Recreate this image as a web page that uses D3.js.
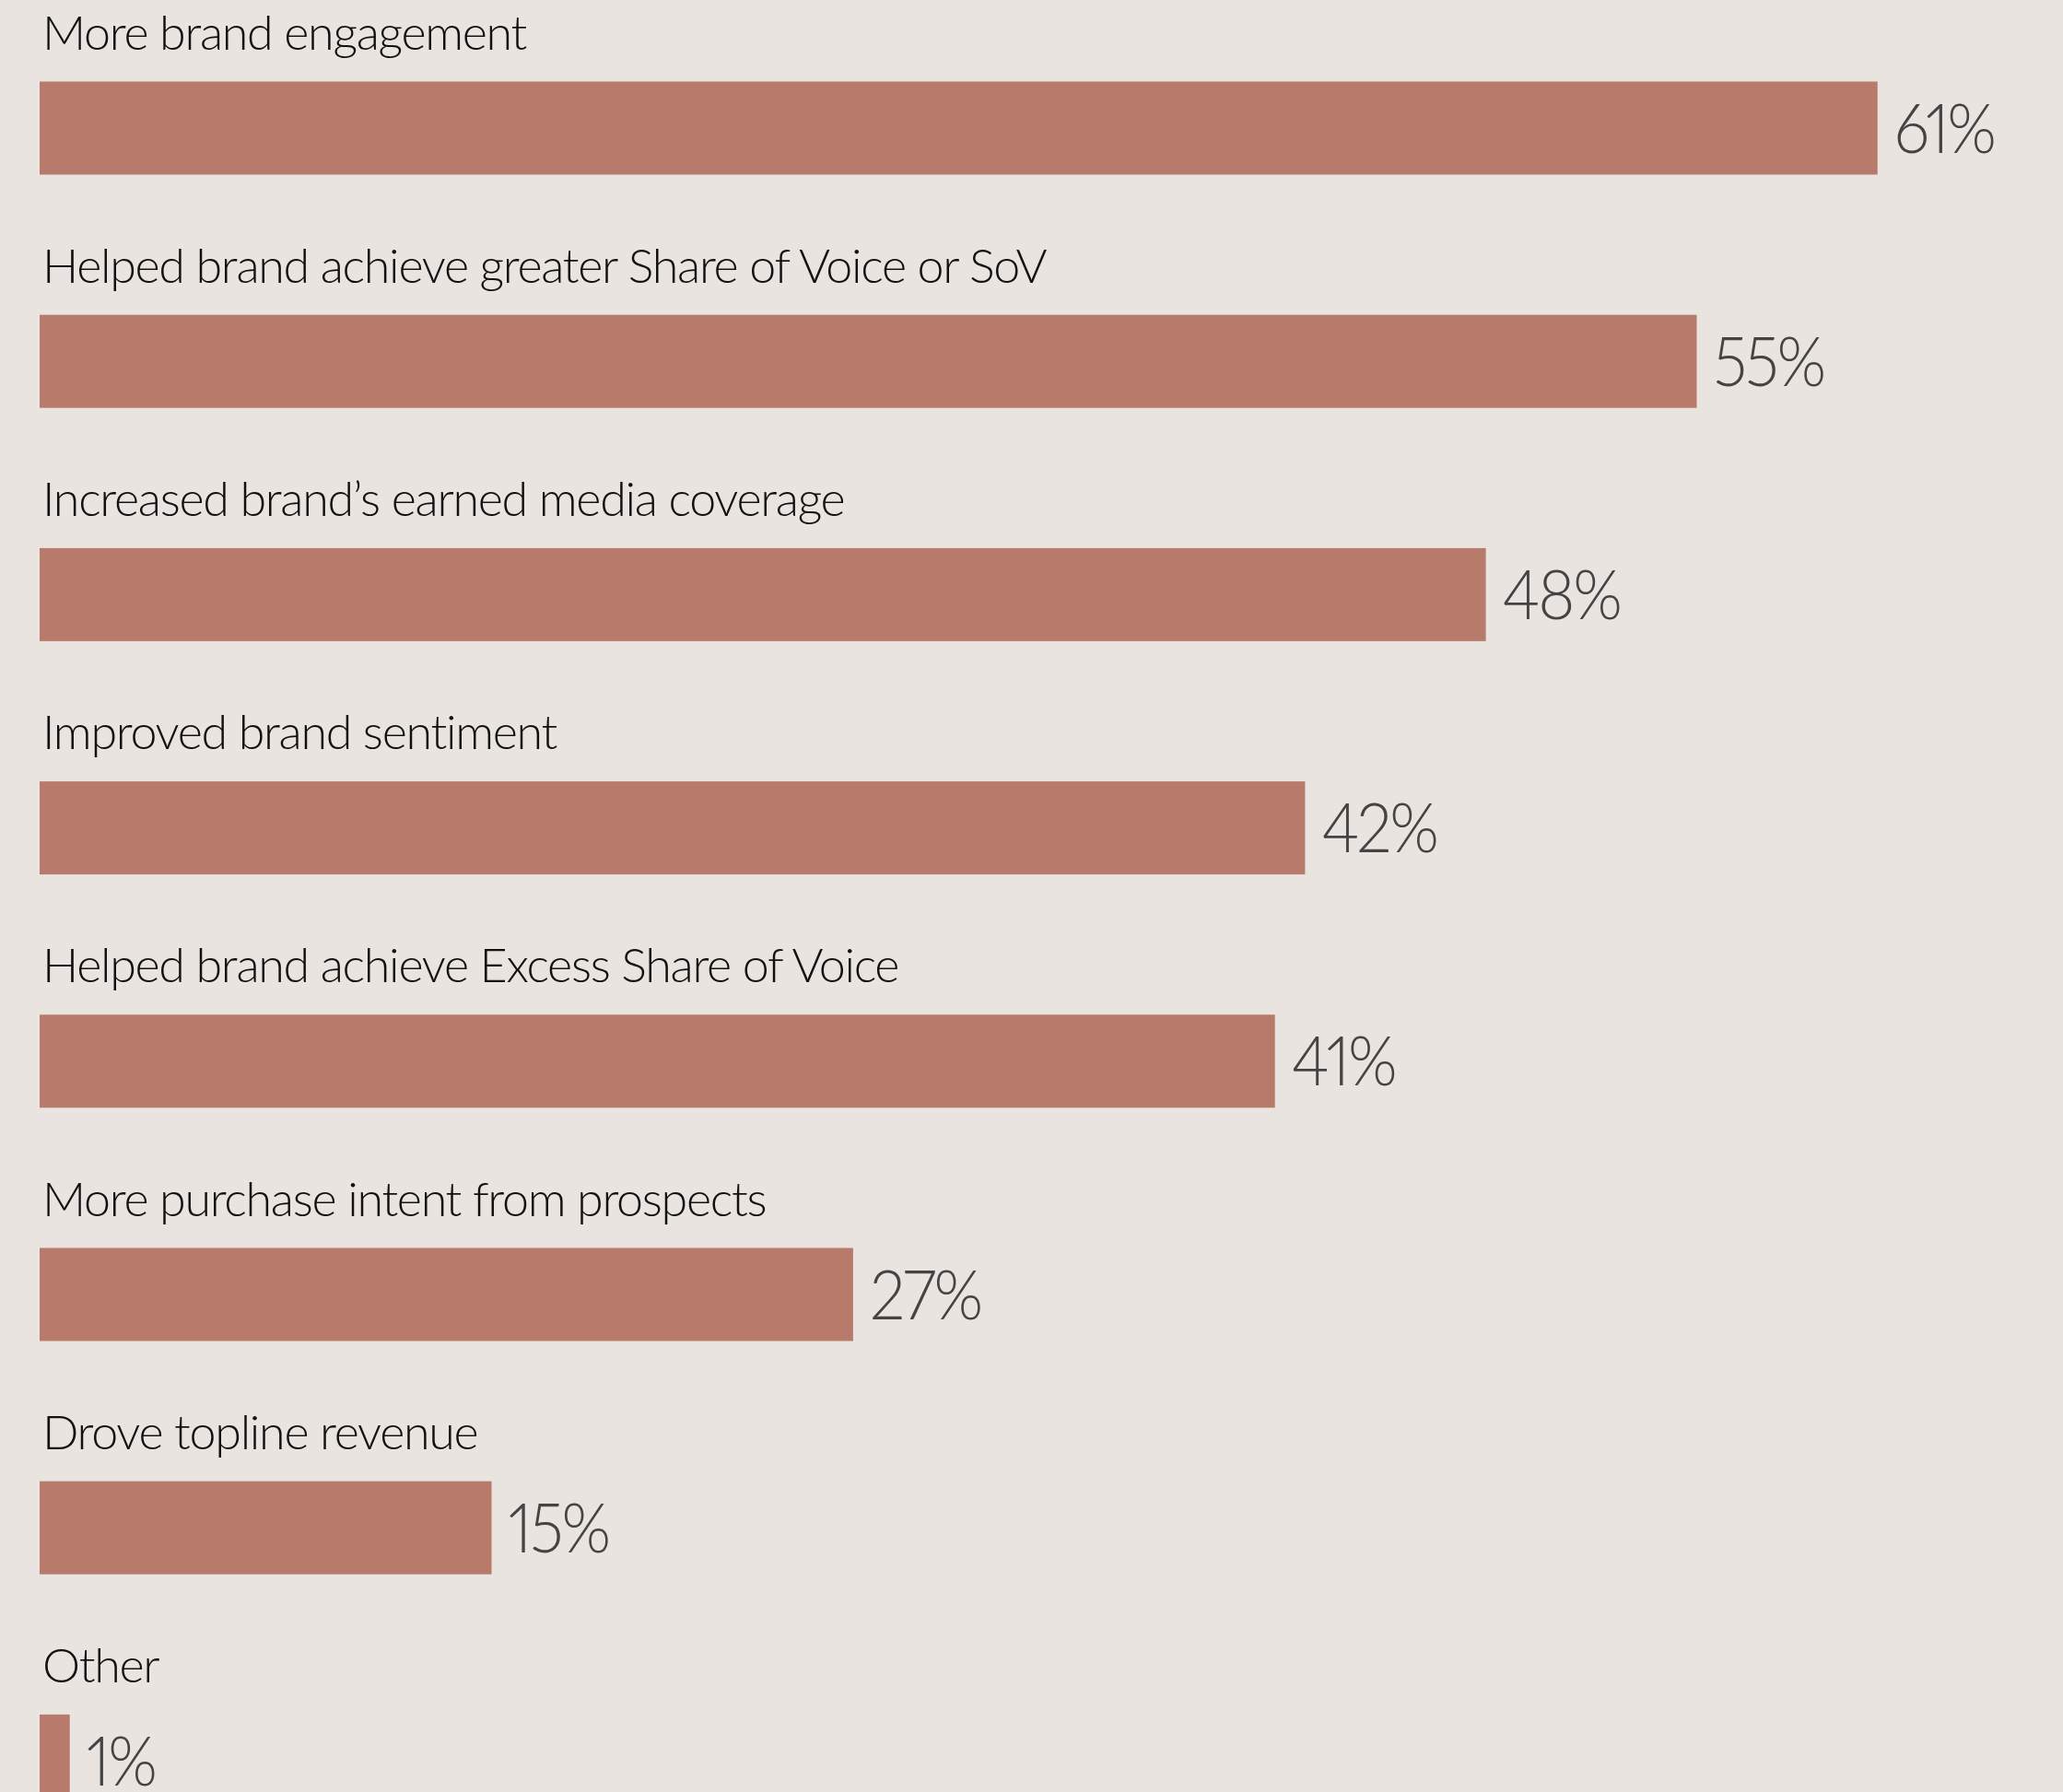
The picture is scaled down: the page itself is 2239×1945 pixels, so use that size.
<!DOCTYPE html>
<html>
<head>
<meta charset="utf-8">
<script src="https://cdn.jsdelivr.net/npm/d3@7"></script>
<style>
html,body{margin:0;padding:0;background:#E9E4DF;overflow:hidden;}
svg{display:block;}
.val{font-variant-numeric: proportional-nums; font-feature-settings: "pnum" 1;}
</style>
</head>
<body>
<script>
const categories = [
  "More brand engagement",
  "Helped brand achieve greater Share of Voice or SoV",
  "Increased brand\u2019s earned media coverage",
  "Improved brand sentiment",
  "Helped brand achieve Excess Share of Voice",
  "More purchase intent from prospects",
  "Drove topline revenue",
  "Other"
];
const values = [61, 55, 48, 42, 41, 27, 15, 1];
const valueLabels = ["61%", "55%", "48%", "42%", "41%", "27%", "15%", "1%"];

const W = 2239, H = 1945;
const data = categories.map((c, i) => ({cat: c, val: values[i], label: valueLabels[i]}));

const svg = d3.select("body").append("svg").attr("width", W).attr("height", H);
svg.append("rect").attr("width", W).attr("height", H).attr("fill", "#E9E4DF");

const x = d3.scaleLinear().domain([0, 100]).range([43, 43 + 3270]);
const inner = 1 - 101 / 253.2;
const y = d3.scaleBand().domain(categories).range([88.5, 88.5 + 253.2 * (categories.length - inner)])
  .paddingInner(inner).paddingOuter(0);

const g = svg.append("g");

g.selectAll("rect.bar").data(data).join("rect")
  .attr("class", "bar")
  .attr("x", x(0))
  .attr("y", d => y(d.cat))
  .attr("width", d => x(d.val) - x(0))
  .attr("height", y.bandwidth())
  .attr("fill", "#B77A6B");

g.selectAll("text.cat").data(data).join("text")
  .attr("class", "cat")
  .attr("x", 46)
  .attr("y", d => y(d.cat) - 35)
  .attr("font-family", "Lato, sans-serif")
  .attr("font-weight", 300)
  .attr("font-size", 52)
  .attr("letter-spacing", -1.3)
  .attr("fill", "#111")
  .text(d => d.cat);

g.selectAll("text.val").data(data).join("text")
  .attr("class", "val")
  .attr("transform", d => `translate(${x(d.val) + 18},${y(d.cat) + y.bandwidth() / 2}) scale(0.93,1)`)
  .attr("dy", "0.36em")
  .attr("font-family", "Lato, sans-serif")
  .attr("font-weight", 300)
  .attr("font-size", 74)
  .attr("letter-spacing", -2.5)
  .attr("fill", "#444")
  .text(d => d.label);
</script>
</body>
</html>
